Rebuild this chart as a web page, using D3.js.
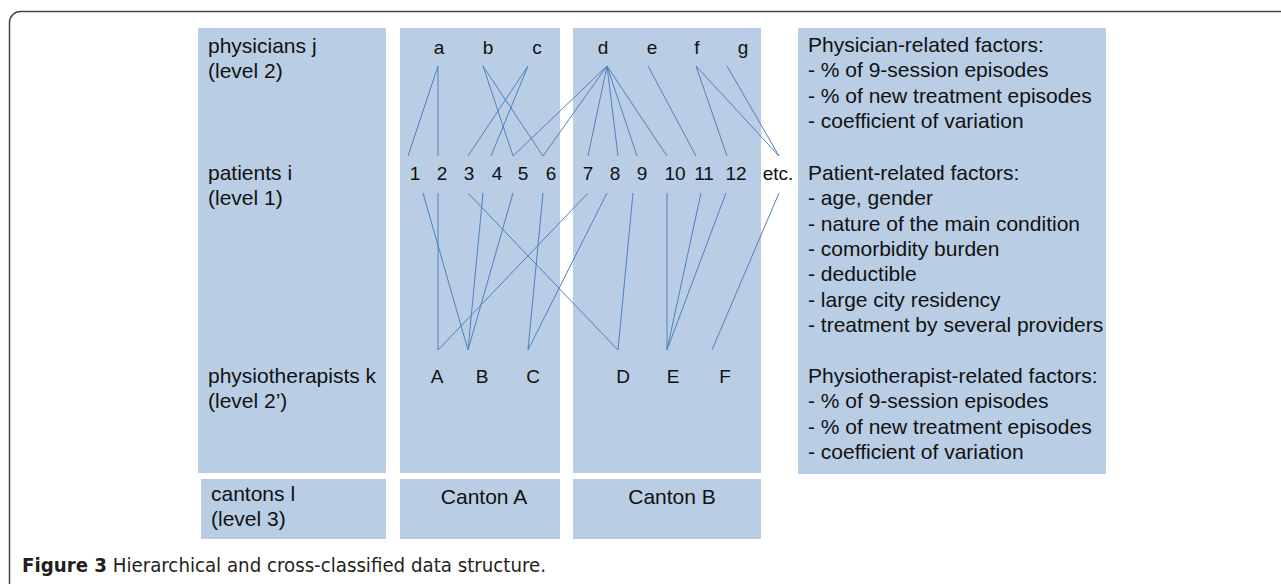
<!DOCTYPE html>
<html>
<head>
<meta charset="utf-8">
<script src="https://cdn.jsdelivr.net/npm/d3@7"></script>
<style>
  body { margin: 0; background: #fff; }
  svg text { font-family: "Liberation Sans", Arial, Helvetica, sans-serif; fill: #111; }
</style>
</head>
<body>
<script>
// nodes of each level
const physicians = ['a', 'b', 'c', 'd', 'e', 'f', 'g'];
const patients = ['1', '2', '3', '4', '5', '6', '7', '8', '9', '10', '11', '12', 'etc.'];
const physios = ['A', 'B', 'C', 'D', 'E', 'F'];
const cantons = ['Canton A', 'Canton B'];

// who sees whom
const physicianLinks = [
  ['a', '1'], ['a', '2'], ['b', '5'], ['b', '6'], ['c', '3'], ['c', '4'],
  ['d', '5'], ['d', '6'], ['d', '7'], ['d', '8'], ['d', '9'], ['d', '10'],
  ['e', '11'], ['f', '12'], ['f', 'etc.'], ['g', 'etc.']
];
const physioLinks = [
  ['1', 'B'], ['2', 'A'], ['3', 'D'], ['4', 'B'], ['5', 'B'], ['6', 'C'],
  ['7', 'A'], ['8', 'C'], ['9', 'D'], ['10', 'E'], ['11', 'E'], ['12', 'E'], ['etc.', 'F']
];

// level labels
const levelLabels = [
  ['physicians j', '(level 2)'],
  ['patients i', '(level 1)'],
  ['physiotherapists k', '(level 2\u2019)']
];
const cantonLabel = ['cantons l', '(level 3)'];

// factor lists
const physicianFactors = ['Physician-related factors:', '- % of 9-session episodes',
  '- % of new treatment episodes', '- coefficient of variation'];
const patientFactors = ['Patient-related factors:', '- age, gender', '- nature of the main condition',
  '- comorbidity burden', '- deductible', '- large city residency', '- treatment by several providers'];
const physioFactors = ['Physiotherapist-related factors:', '- % of 9-session episodes',
  '- % of new treatment episodes', '- coefficient of variation'];

const width = 1281, height = 584;
const boxFill = '#b9cde5', lineColor = '#4f81bd';

let svg = d3.select('body')
  .append('svg')
  .attr('width', width)
  .attr('height', height);

// frame round the figure
svg.append('rect')
  .attr('x', 9.5).attr('y', 11.5)
  .attr('width', 1400).attr('height', 620)
  .attr('rx', 11)
  .attr('fill', 'none')
  .attr('stroke', '#444')
  .attr('stroke-width', 1.5);

// background boxes
let boxes = [
  { x: 198, y: 28, w: 188, h: 445 },
  { x: 400, y: 28, w: 160, h: 445 },
  { x: 573, y: 28, w: 188, h: 445 },
  { x: 798, y: 28, w: 308, h: 446 },
  { x: 201, y: 479, w: 185, h: 60 },
  { x: 400, y: 479, w: 160, h: 60 },
  { x: 573, y: 479, w: 188, h: 60 }
];
svg.selectAll('rect.box')
  .data(boxes)
  .enter()
  .append('rect')
  .attr('class', 'box')
  .attr('x', d => d.x).attr('y', d => d.y)
  .attr('width', d => d.w).attr('height', d => d.h)
  .attr('fill', boxFill);

// x positions of labels and line ends
let physicianX = d3.scaleOrdinal().domain(physicians).range([439, 488, 537, 603, 652, 697, 743]);
let physicianEnd = d3.scaleOrdinal().domain(physicians).range([438, 483, 528, 607, 648, 696, 727]);
let patientX = d3.scaleOrdinal().domain(patients)
  .range([415, 442, 469, 497, 523, 551, 588, 615, 642, 675, 704, 736, 778]);
let patientTop = d3.scaleOrdinal().domain(patients)
  .range([408, 438, 468, 491, 513, 543, 588, 618, 637, 667, 696, 727, 779]);
let patientBottom = d3.scaleOrdinal().domain(patients)
  .range([423, 438, 468, 483, 513, 543, 588, 607, 633, 667, 701, 726, 779]);
let physioX = d3.scaleOrdinal().domain(physios).range([437, 482, 533, 623, 673, 725]);
let physioEnd = d3.scaleOrdinal().domain(physios).range([438, 468, 528, 618, 667, 712]);

// rows
let rowY = { physTop: 66, patTop: 156, patBottom: 193, physioTop: 350 };

svg.append('g')
  .selectAll('line')
  .data(physicianLinks)
  .enter()
  .append('line')
  .attr('x1', d => physicianEnd(d[0])).attr('y1', rowY.physTop)
  .attr('x2', d => patientTop(d[1])).attr('y2', rowY.patTop)
  .attr('stroke', lineColor).attr('stroke-width', 1);

svg.append('g')
  .selectAll('line')
  .data(physioLinks)
  .enter()
  .append('line')
  .attr('x1', d => patientBottom(d[0])).attr('y1', rowY.patBottom)
  .attr('x2', d => physioEnd(d[1])).attr('y2', rowY.physioTop)
  .attr('stroke', lineColor).attr('stroke-width', 1);

// node labels
function nodeRow(names, xs, y) {
  svg.append('g')
    .selectAll('text')
    .data(names)
    .enter()
    .append('text')
    .attr('x', d => xs(d))
    .attr('y', y)
    .attr('text-anchor', 'middle')
    .style('font-size', '19px')
    .text(d => d);
}
nodeRow(physicians, physicianX, 54);
nodeRow(patients, patientX, 180);
nodeRow(physios, physioX, 383);

// level labels on the left
let labelBase = [53, 180, 383];
levelLabels.forEach((lines, i) => {
  svg.append('g')
    .selectAll('text')
    .data(lines)
    .enter()
    .append('text')
    .attr('x', 208)
    .attr('y', (d, j) => labelBase[i] + j * 25)
    .style('font-size', '21px')
    .text(d => d);
});
svg.append('g')
  .selectAll('text')
  .data(cantonLabel)
  .enter()
  .append('text')
  .attr('x', 211)
  .attr('y', (d, j) => 501 + j * 25)
  .style('font-size', '21px')
  .text(d => d);

let cantonX = d3.scaleOrdinal().domain(cantons).range([484, 672]);
svg.append('g')
  .selectAll('text')
  .data(cantons)
  .enter()
  .append('text')
  .attr('x', d => cantonX(d))
  .attr('y', 504)
  .attr('text-anchor', 'middle')
  .style('font-size', '21px')
  .text(d => d);

// factor lists on the right
function factorBlock(lines, y0) {
  svg.append('g')
    .selectAll('text')
    .data(lines)
    .enter()
    .append('text')
    .attr('x', 808)
    .attr('y', (d, i) => y0 + i * 25.35)
    .style('font-size', '21px')
    .text(d => d);
}
factorBlock(physicianFactors, 52);
factorBlock(patientFactors, 180);
factorBlock(physioFactors, 383);

// caption
let caption = svg.append('text')
  .attr('x', 22)
  .attr('y', 572)
  .style('font-family', '"Liberation Sans Narrow", "DejaVu Sans Condensed", "Liberation Sans", sans-serif')
  .style('font-size', '19px')
  .style('fill', '#231f20');
caption.append('tspan').style('font-weight', 'bold').text('Figure 3');
caption.append('tspan').text(' Hierarchical and cross-classified data structure.');
caption.attr('textLength', 524).attr('lengthAdjust', 'spacingAndGlyphs');
</script>
</body>
</html>
